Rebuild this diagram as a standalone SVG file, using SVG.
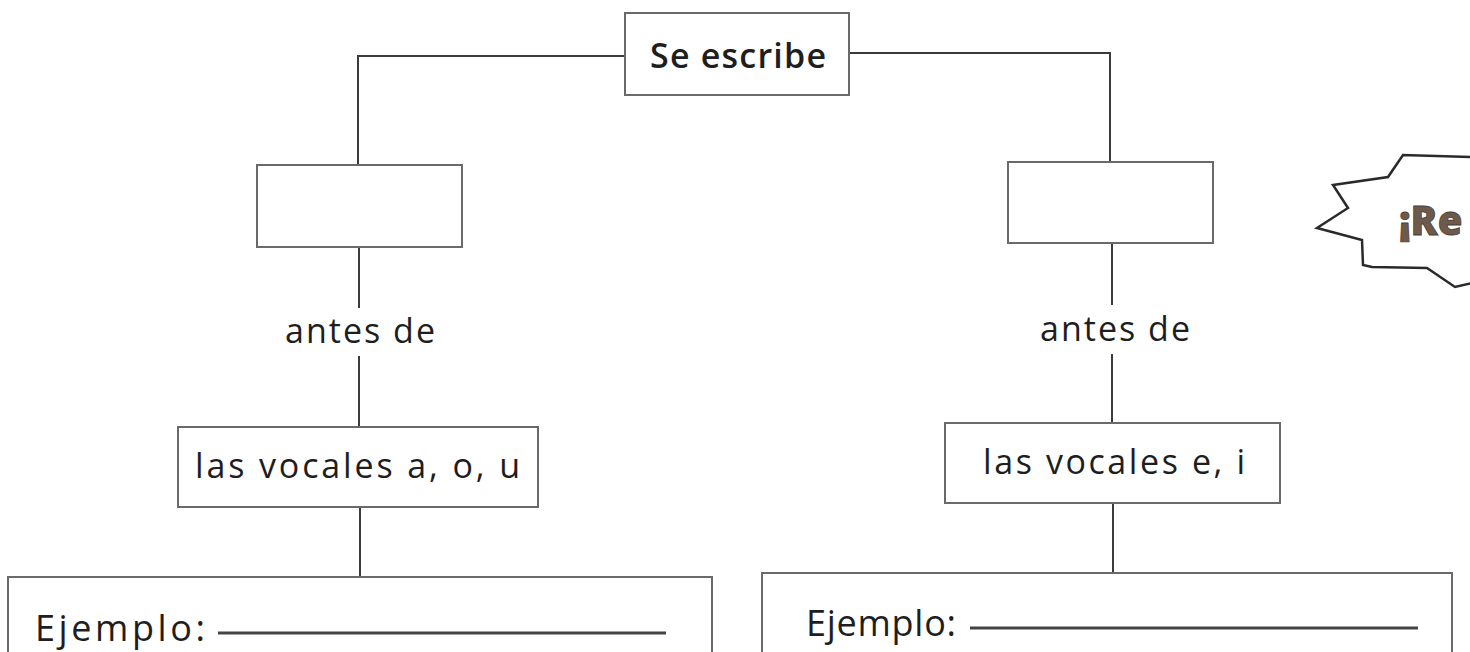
<svg xmlns="http://www.w3.org/2000/svg" width="1470" height="652" viewBox="0 0 1470 652">
<style>
.bx{fill:#fff;stroke:#6a6a6a;stroke-width:2}
.ln{fill:none;stroke:#3a3a3a;stroke-width:2}
.t{font-family:"Open Sans","Noto Sans","DejaVu Sans",sans-serif;font-size:34px;fill:#1e1e1e}
.ej{font-size:36px}
.hd{font-weight:600}
.ul{stroke:#444;stroke-width:3}
</style>
<rect width="1470" height="652" fill="#fff"/>
<g id="connectors">
<polyline class="ln" points="625,56 358,56 358,165"/>
<polyline class="ln" points="849,53 1110,53 1110,162"/>
<line class="ln" x1="359" y1="247" x2="359" y2="308"/>
<line class="ln" x1="359" y1="356" x2="359" y2="427"/>
<line class="ln" x1="1112" y1="243" x2="1112" y2="305"/>
<line class="ln" x1="1112" y1="354" x2="1112" y2="423"/>
<line class="ln" x1="360" y1="507" x2="360" y2="577"/>
<line class="ln" x1="1113" y1="503" x2="1113" y2="573"/>
</g>
<g id="se-escribe">
<rect class="bx" x="625" y="13" width="224" height="82"/>
<text class="t hd" x="650" y="68" textLength="176" lengthAdjust="spacing">Se escribe</text>
</g>
<g id="blank-left"><rect class="bx" x="257" y="165" width="205" height="82"/></g>
<g id="blank-right"><rect class="bx" x="1008" y="162" width="205" height="81"/></g>
<g id="antes-left"><text class="t" x="285" y="343" textLength="150" lengthAdjust="spacing">antes de</text></g>
<g id="antes-right"><text class="t" x="1040" y="341" textLength="150" lengthAdjust="spacing">antes de</text></g>
<g id="vocales-aou">
<rect class="bx" x="178" y="427" width="360" height="80"/>
<text class="t" x="195" y="478" textLength="325" lengthAdjust="spacing">las vocales a, o, u</text>
</g>
<g id="vocales-ei">
<rect class="bx" x="945" y="423" width="335" height="80"/>
<text class="t" x="983" y="474" textLength="262" lengthAdjust="spacing">las vocales e, i</text>
</g>
<g id="ejemplo-left">
<rect class="bx" x="8" y="577" width="704" height="90"/>
<text class="t ej" x="35" y="641" textLength="170" lengthAdjust="spacing">Ejemplo:</text>
<line class="ul" x1="218" y1="633" x2="666" y2="633"/>
</g>
<g id="ejemplo-right">
<rect class="bx" x="762" y="573" width="690" height="90"/>
<text class="t ej" x="806" y="636" textLength="150" lengthAdjust="spacing">Ejemplo:</text>
<line class="ul" x1="970" y1="628" x2="1418" y2="628"/>
</g>
<g id="starburst">
<polyline fill="#fff" stroke="#2a2a2a" stroke-width="2.5" stroke-linejoin="miter" points="1472,157 1403,155 1388,177 1333,185 1348,208 1317,228 1362,240 1363,265 1372,267 1427,268 1455,287 1472,283"/>
<text x="1399" y="235" font-family="'Open Sans','DejaVu Sans',sans-serif" font-size="40" font-weight="800" fill="#6e5a4c" stroke="#4a3d34" stroke-width="0.8">¡Re</text>
</g>
</svg>
